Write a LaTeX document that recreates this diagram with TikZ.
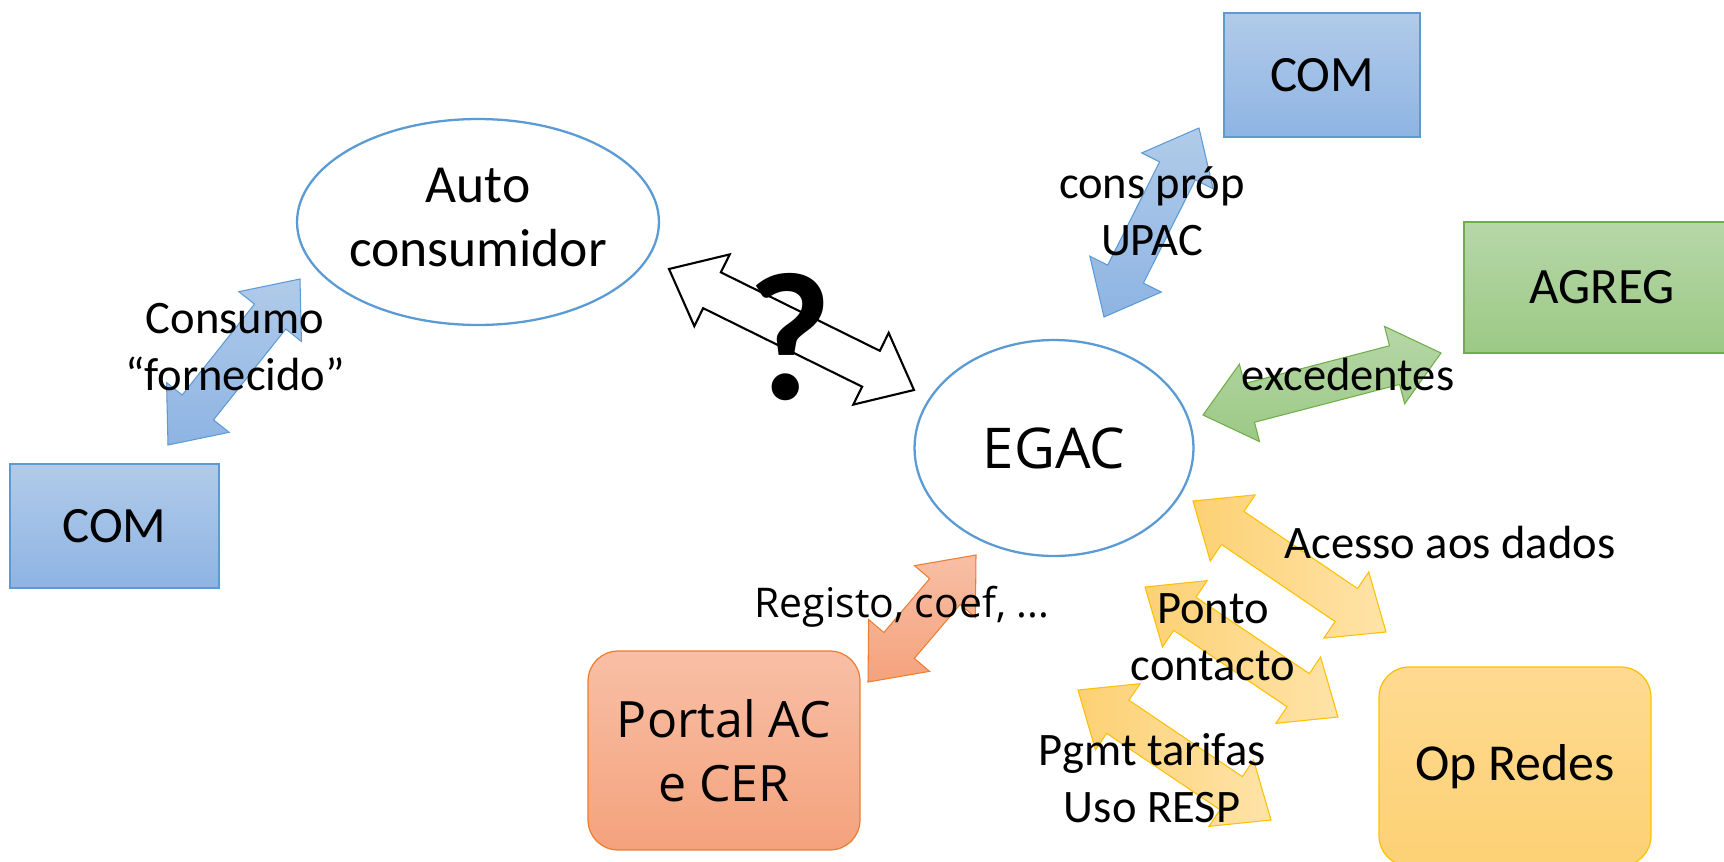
\documentclass[tikz,border=0pt]{standalone}
\usepackage{fontspec}
\setmainfont{Carlito}
\newfontfamily\osans{Open Sans}
\usetikzlibrary{calc,shapes.geometric}
\definecolor{bluebd}{HTML}{5B9BD5}
\definecolor{bluetop}{HTML}{B1CBE9}
\definecolor{bluebot}{HTML}{8EB4E3}
\definecolor{greenbd}{HTML}{70AD47}
\definecolor{greentop}{HTML}{B6D7A8}
\definecolor{greenbot}{HTML}{9CC985}
\definecolor{orangebd}{HTML}{ED7D31}
\definecolor{orangetop}{HTML}{F8BFA6}
\definecolor{orangebot}{HTML}{F4A27C}
\definecolor{yellowbd}{HTML}{FFC000}
\definecolor{yellowtop}{HTML}{FEDA91}
\definecolor{yellowbot}{HTML}{FDD174}
\definecolor{yellowlt}{HTML}{FEE3A8}
\newcommand{\barrow}[4]{%
  \coordinate (#4ha) at ($(#2)!0.96cm!(#3)$);
  \coordinate (#4hb) at ($(#3)!0.96cm!(#2)$);
  \draw[#1] (#2) -- ($(#4ha)!0.8cm!90:(#3)$) -- ($(#4ha)!0.4cm!90:(#3)$)
    -- ($(#4hb)!0.4cm!-90:(#2)$) -- ($(#4hb)!0.8cm!-90:(#2)$) -- (#3)
    -- ($(#4hb)!0.8cm!90:(#2)$) -- ($(#4hb)!0.4cm!90:(#2)$)
    -- ($(#4ha)!0.4cm!-90:(#3)$) -- ($(#4ha)!0.8cm!-90:(#3)$) -- cycle;}
\begin{document}
\begin{tikzpicture}[x=0.02cm,y=-0.02cm,
  ell/.style={ellipse,draw=bluebd,line width=1.3pt,fill=white,inner sep=0pt},
  bluebox/.style={rectangle,draw=bluebd,line width=0.7pt,top color=bluetop,bottom color=bluebot,inner sep=0pt},
  greenbox/.style={rectangle,draw=greenbd,line width=0.7pt,top color=greentop,bottom color=greenbot,inner sep=0pt},
  orangebox/.style={rectangle,rounded corners=0.6cm,draw=orangebd,line width=0.7pt,top color=orangetop,bottom color=orangebot,inner sep=0pt},
  yellowbox/.style={rectangle,rounded corners=0.6cm,draw=yellowbd,line width=0.7pt,top color=yellowtop,bottom color=yellowbot,inner sep=0pt},
  blar/.style={draw=bluebd,line width=0.6pt,top color=bluetop,bottom color=bluebot},
  grar/.style={draw=greenbd,line width=0.6pt,top color=greentop,bottom color=greenbot},
  orar/.style={draw=orangebd,line width=0.6pt,top color=orangetop,bottom color=orangebot},
  year/.style={draw=yellowbd,line width=0.6pt,left color=yellowbot,right color=yellowlt},
  whar/.style={draw=black,line width=1.2pt,fill=white},
  lbl/.style={inner sep=0pt,align=center,font=\fontsize{26.5}{32.5}\selectfont},
  boxtxt/.style={font=\fontsize{29}{36}\selectfont}
]
\useasboundingbox (0,0) rectangle (1724,862);
\clip (0,0) rectangle (1724,862);
% nodes
\node[ell,minimum width=7.24cm,minimum height=4.12cm] (auto) at (478,222) {};
\node[inner sep=0pt,align=center,font=\fontsize{30.5}{36.4}\selectfont] (autotxt) at (478,217.5) {Auto\\consumidor};
\node[ell,minimum width=5.58cm,minimum height=4.32cm,font=\osans\fontsize{32}{38}\selectfont] (egac) at (1054,448) {EGAC};
\node[bluebox,minimum width=4.18cm,minimum height=2.48cm,boxtxt] (comL) at (114.5,526) {COM};
\node[bluebox,minimum width=3.92cm,minimum height=2.48cm,boxtxt] (comT) at (1322,75) {COM};
\node[greenbox,minimum width=5.52cm,minimum height=2.62cm,boxtxt] (agreg) at (1602,287.5) {AGREG};
\node[orangebox,minimum width=5.44cm,minimum height=3.98cm,align=center,font=\osans\fontsize{28.5}{36.4}\selectfont] (portal) at (724,750.5) {Portal AC\\e CER};
\node[yellowbox,minimum width=5.44cm,minimum height=3.98cm,font=\fontsize{29.5}{36}\selectfont] (opr) at (1515,766.5) {Op Redes};
% arrow end points
\coordinate (bLa) at (168,445); \coordinate (bLb) at (300,279);
\coordinate (bTa) at (1104,317); \coordinate (bTb) at (1199,128);
\coordinate (gra) at (1203,415); \coordinate (grb) at (1441,353);
\coordinate (qa) at (669,269); \coordinate (qb) at (914,390);
\coordinate (ora) at (868,682); \coordinate (orb) at (976,555);
\coordinate (y1a) at (1193,501); \coordinate (y1b) at (1386,632);
\coordinate (y2a) at (1145,587); \coordinate (y2b) at (1338,717);
\coordinate (y3a) at (1078,690); \coordinate (y3b) at (1271,820);
\barrow{blar}{bLa}{bLb}{bL}
\barrow{blar}{bTa}{bTb}{bT}
\barrow{grar}{gra}{grb}{gr}
\barrow{whar}{qa}{qb}{q}
\barrow{orar}{ora}{orb}{or}
\barrow{year}{y1a}{y1b}{ya}
\barrow{year}{y2a}{y2b}{yb}
\barrow{year}{y3a}{y3b}{yc}
% question mark
\node[inner sep=0pt,font=\bfseries\fontsize{104}{104}\selectfont] (qm) at (790,337) {?};
% labels
\node[lbl] (lcons) at (235,347) {Consumo\\“fornecido”};
\node[lbl] (lupac) at (1152,211) {cons próp\\UPAC};
\node[lbl,anchor=base] (lexc) at (1348,390) {excedentes};
\node[lbl,anchor=base] (lace) at (1450,558) {Acesso aos dados};
\node[lbl] (lpon) at (1213,637) {Ponto\\contacto};
\node[lbl] (lpgm) at (1152,778) {Pgmt tarifas\\Uso RESP};
\node[inner sep=0pt,anchor=base,font=\osans\fontsize{23.3}{30}\selectfont] (lreg) at (902,617) {Registo, coef, ...};
\end{tikzpicture}
\end{document}
